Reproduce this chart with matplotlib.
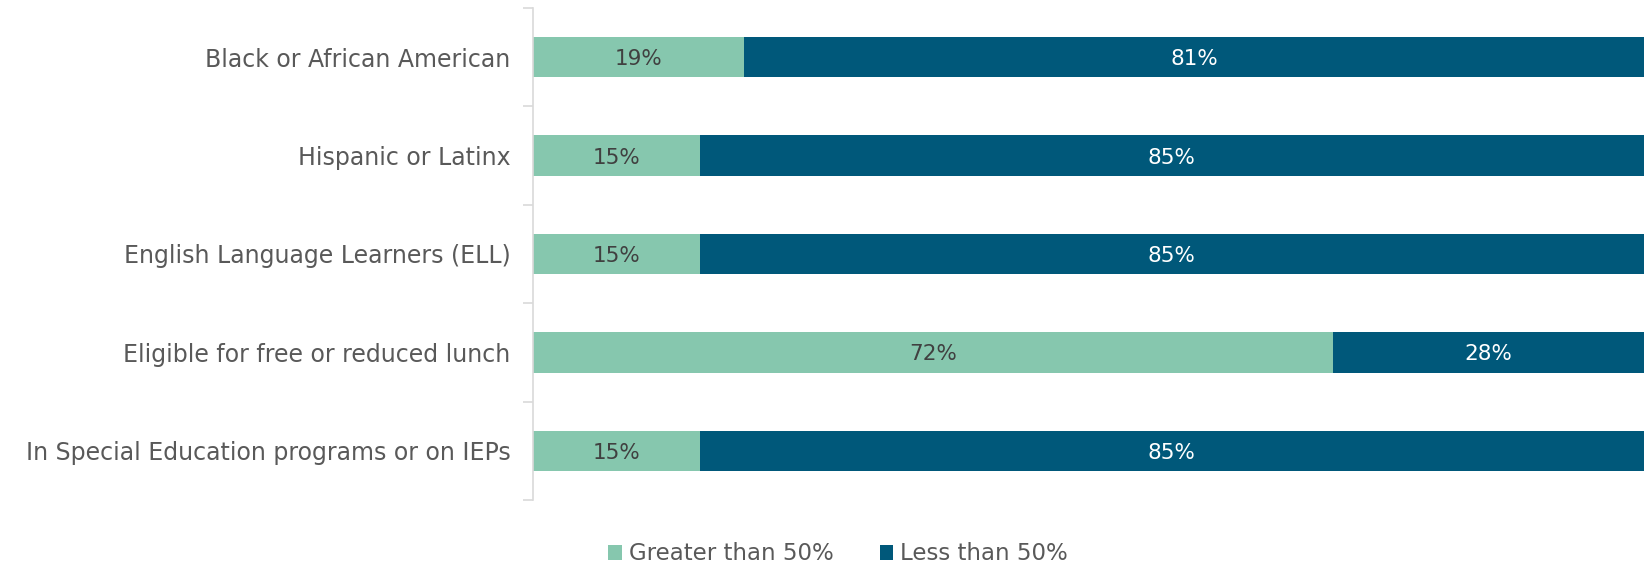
import matplotlib
matplotlib.use("Agg")
import matplotlib.pyplot as plt
from matplotlib.patches import Patch
import numpy as np

categories = [
    "Black or African American",
    "Hispanic or Latinx",
    "English Language Learners (ELL)",
    "Eligible for free or reduced lunch",
    "In Special Education programs or on IEPs",
]
greater_than_50 = [19, 15, 15, 72, 15]
less_than_50 = [81, 85, 85, 28, 85]
series_names = ["Greater than 50%", "Less than 50%"]

green = "#86C7AE"
blue = "#00587A"
text_gray = "#595959"

plt.rcParams["font.family"] = ["DejaVu Sans"]

fig = plt.figure(figsize=(16.5, 5.64), dpi=100)
ax = fig.add_axes([0.323, 0.1135, 0.6734, 0.8723])

y = np.arange(len(categories))
h = 0.41
ax.barh(y, greater_than_50, height=h, color=green)
ax.barh(y, less_than_50, left=greater_than_50, height=h, color=blue)

for yi, g, l in zip(y, greater_than_50, less_than_50):
    ax.text(g / 2, yi, f"{g}%", ha="center", va="center_baseline", fontsize=15.5, color="#404040")
    ax.text(g + l / 2, yi, f"{l}%", ha="center", va="center_baseline", fontsize=15.5, color="white")

ax.set_xlim(0, 100)
ax.set_ylim(len(categories) - 0.5, -0.5)
ax.set_yticks(y)
ax.set_yticklabels(categories, fontsize=17, color=text_gray)
ax.tick_params(axis="y", which="major", length=0, pad=16)
ax.set_yticks(np.arange(-0.5, len(categories)), minor=True)
ax.tick_params(axis="y", which="minor", length=7, color="#d9d9d9", width=1.2)
ax.set_xticks([])
for s in ["top", "right", "bottom"]:
    ax.spines[s].set_visible(False)
ax.spines["left"].set_color("#d9d9d9")
ax.spines["left"].set_linewidth(1.2)

handles = [Patch(facecolor=green), Patch(facecolor=blue)]
fig.legend(handles, series_names, loc="center", bbox_to_anchor=(0.508, 0.018),
           ncol=2, frameon=False, fontsize=16.5, labelcolor=text_gray,
           handlelength=0.6, handleheight=0.6, handletextpad=0.3, columnspacing=2.0,
           borderpad=0)

fig.savefig("out.png", dpi=100)
